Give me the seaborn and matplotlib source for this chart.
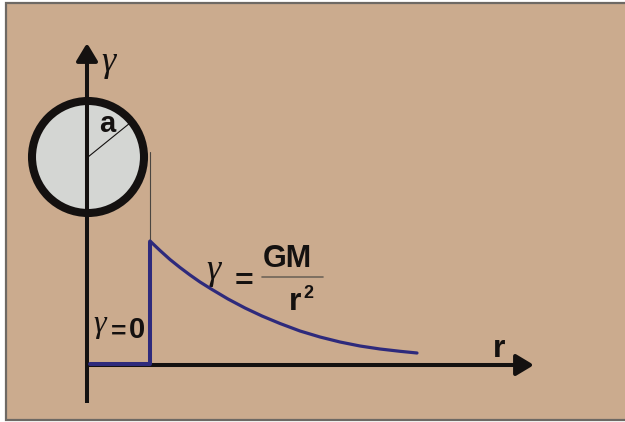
"""
gravity inside / outside a thin shell: gamma = 0 for r < a, GM/r^2 outside
coordinates are in pixel-sized units measured from the origin of the diagram
"""
import numpy as np
import seaborn as sns
import matplotlib.pyplot as plt
from matplotlib.patches import Circle, Rectangle

# shell radius and field values
shell_a = 62
r_inside = [2, 62, 62]
g_inside = [1, 1, 123]
r_outside = [62, 72, 82, 92, 102, 112, 124, 140, 157, 174, 192, 212, 232, 252,
             272, 292, 312, 329]
g_outside = [124, 114.5, 105.5, 97.5, 90, 83, 75.5, 66, 57, 49, 41.5, 34, 28, 23,
             19, 16, 13.7, 12]

tan = '#CBAB8E'
blue = '#2E2A7C'
ink = '#141110'

sns.set_style('white')
plt.rcParams['font.family'] = ['Liberation Sans', 'DejaVu Sans']

fig = plt.figure(figsize=(6.25, 4.22), dpi=100)
fig.patch.set_facecolor('white')
ax = fig.add_axes([0, 0, 1, 1])
ax.set_xlim(-88, 537)
ax.set_ylim(-57, 365)
ax.axis('off')

# panel background with grey frame
ax.add_patch(Rectangle((-82, -55), 700, 417, facecolor=tan, edgecolor='#6E6964',
                       lw=1.6, zorder=0))

# the shell
ax.add_patch(Circle((0, 208), 56, facecolor='#D4D6D3', edgecolor=ink, lw=5.8, zorder=2))
ax.plot([0, 42], [208, 242], color=ink, lw=0.8, zorder=3)
ax.text(19.5, 233, 'a', fontsize=21, fontweight='bold', color=ink, ha='center',
        va='baseline', zorder=4)

# thin marker from shell edge down to the curve
ax.plot([shell_a, shell_a], [213, 123], color='#4A4540', lw=0.8, zorder=1)

# axes with arrow heads
arw = dict(arrowstyle='-|>,head_length=0.6,head_width=0.36', mutation_scale=18,
           lw=2.9, color=ink, shrinkA=0, shrinkB=0, capstyle='butt')
ax.annotate('', xy=(-1, 322), xytext=(-1, -38), arrowprops=arw, zorder=5)
ax.annotate('', xy=(446, 0), xytext=(-1, 0), arrowprops=arw, zorder=5)

# field: zero inside, GM/r^2 outside
sns.lineplot(x=r_inside, y=g_inside, ax=ax, color=blue, lw=2.9, estimator=None,
             sort=False, zorder=6)
sns.lineplot(x=r_outside, y=g_outside, ax=ax, color=blue, lw=2.3, estimator=None,
             sort=False, zorder=6)

serif = ['Liberation Serif', 'DejaVu Serif']
gam = dict(family=serif, style='italic', color=ink, ha='center', va='baseline')
bold = dict(fontweight='bold', color=ink, ha='center', va='baseline')
ax.text(20.5, 294, '\u03b3', fontsize=26, **gam)
ax.text(125.5, 86, '\u03b3', fontsize=26, **gam)
ax.text(155.5, 75, '=', fontsize=23, **bold)
ax.text(199.5, 98, 'GM', fontsize=22, **bold)
ax.plot([174, 235], [88, 88], color='#6F6558', lw=1.2)
ax.text(207, 55, 'r', fontsize=23, **bold)
ax.text(220.5, 67, '2', fontsize=13, **bold)

ax.text(12, 33, '\u03b3', fontsize=23, **gam)
ax.text(30.5, 26, '=', fontsize=19, **bold)
ax.text(48.5, 27, '0', fontsize=21, **bold)

ax.text(411, 8, 'r', fontsize=23, **bold)

fig.savefig('out.png', dpi=100, facecolor=fig.get_facecolor())
